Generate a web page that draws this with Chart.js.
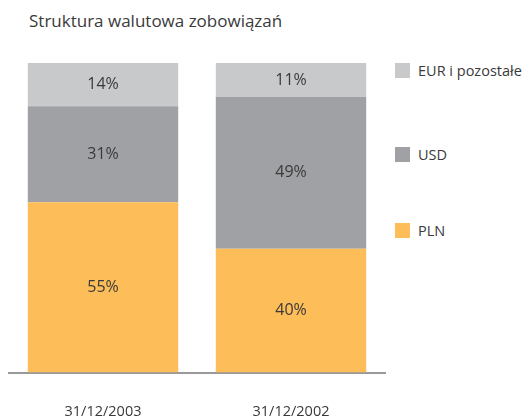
<!DOCTYPE html>
<html>
<head>
<meta charset="utf-8">
<script src="https://cdn.jsdelivr.net/npm/chart.js@4"></script>
<style>
  body { margin: 0; background: #fff; font-family: "Open Sans", sans-serif; color: #3a3a3a; }
  #wrap { position: relative; width: 525px; height: 419px; overflow: hidden; }
  #title { position: absolute; left: 29px; top: 9px; font-size: 17px; }
  #legend { position: absolute; left: 395px; top: 0; }
  .item { position: absolute; left: 0; white-space: nowrap; font-size: 14.5px; }
  .item span.box { display: inline-block; width: 15px; height: 15px; vertical-align: middle; margin-right: 8px; }
  .item span.txt { vertical-align: middle; }
  canvas { position: absolute; left: 0; top: 0; }
</style>
</head>
<body>
<div id="wrap">
  <div id="title">Struktura walutowa zobowiązań</div>
  <div id="legend"></div>
  <canvas id="chart" width="525" height="419"></canvas>
</div>
<script>
var dates = ['31/12/2003', '31/12/2002'];
var pln = [55, 40];
var usd = [31, 49];
var eur = [14, 11];
var names = ['PLN', 'USD', 'EUR i pozostałe'];
var colors = ['#fdbd58', '#a0a1a4', '#c8c9cb'];

// legend top -> bottom: EUR, USD, PLN
var legendY = [70, 154, 230];
var leg = document.querySelector('#legend');
var str = '';
for (let i = 2; i >= 0; i--) {
  str += "<div class='item' style='top:" + (legendY[2 - i] - 11) + "px'>" +
    "<span class='box' style='background:" + colors[i] + "'></span><span class='txt'>" + names[i] + "</span></div>";
}
leg.innerHTML = str;

var valueLabels = {
  id: 'valueLabels',
  afterDatasetsDraw(chart) {
    var ctx = chart.ctx;
    ctx.save();
    ctx.font = '16px "Open Sans"';
    ctx.fillStyle = '#3a3a3a';
    ctx.textAlign = 'center';
    ctx.textBaseline = 'middle';
    chart.data.datasets.forEach(function (ds, i) {
      chart.getDatasetMeta(i).data.forEach(function (bar, j) {
        var y = (bar.y + bar.base) / 2;
        ctx.fillText(ds.data[j] + '%', bar.x, y);
      });
    });
    ctx.restore();
  }
};

new Chart(document.querySelector('#chart'), {
  type: 'bar',
  data: {
    labels: dates,
    datasets: [
      { label: names[0], data: pln, backgroundColor: colors[0] },
      { label: names[1], data: usd, backgroundColor: colors[1] },
      { label: names[2], data: eur, backgroundColor: colors[2] }
    ]
  },
  options: {
    responsive: false,
    animation: false,
    // ticks padding counts twice in the axis height, so pull the bottom down
    layout: { padding: { left: 9, right: 140, top: 63, bottom: -33 } },
    datasets: { bar: { barPercentage: 0.8, categoryPercentage: 1 } },
    plugins: { legend: { display: false }, title: { display: false }, tooltip: { enabled: false } },
    scales: {
      x: {
        stacked: true,
        grid: { display: false, drawTicks: false },
        border: { display: true, color: '#999999', width: 2 },
        ticks: { color: '#3a3a3a', font: { family: 'Open Sans', size: 14.5 }, padding: 31 }
      },
      y: {
        stacked: true,
        display: false,
        min: 0,
        max: 100
      }
    }
  },
  plugins: [valueLabels]
});
</script>
</body>
</html>
